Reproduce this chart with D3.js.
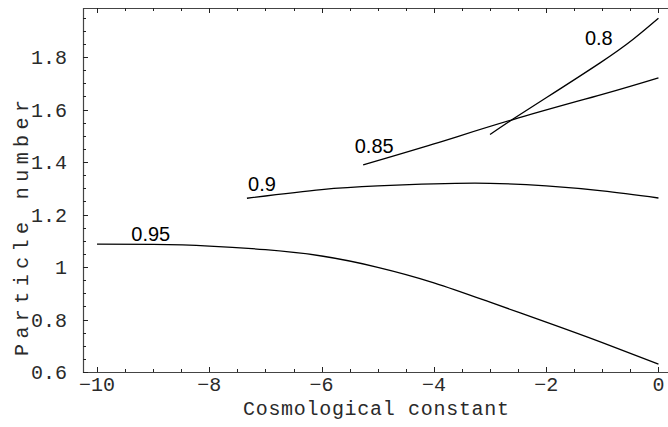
<!DOCTYPE html>
<html>
<head>
<meta charset="utf-8">
<script src="https://cdn.jsdelivr.net/npm/d3@7/dist/d3.min.js"></script>
<style>
  html, body { margin: 0; padding: 0; background: #fff; }
  svg { display: block; }
</style>
</head>
<body>
<svg id="chart" width="668" height="427"></svg>
<script>
// ---- data ----
const xTicks = [-10, -8, -6, -4, -2, 0];
const yTicks = [0.6, 0.8, 1.0, 1.2, 1.4, 1.6, 1.8];
const yTickLabels = ["0.6", "0.8", "1", "1.2", "1.4", "1.6", "1.8"];

const x95 = [-10, -9, -8, -7, -6, -5, -4, -3, -2, -1, 0];
const y95 = [1.087, 1.086, 1.080, 1.066, 1.042, 0.999, 0.940, 0.866, 0.790, 0.712, 0.630];

const x90 = [-7.33, -6, -5, -4, -3, -2, -1, 0];
const y90 = [1.262, 1.295, 1.309, 1.317, 1.319, 1.309, 1.290, 1.263];

const x85 = [-5.26, -4, -2.59, -1, 0];
const y85 = [1.389, 1.469, 1.562, 1.658, 1.721];

const x80 = [-3.0, -2.59, -2.0, -1.04, -0.45, 0];
const y80 = [1.505, 1.564, 1.645, 1.778, 1.868, 1.948];

const curveNames = ["0.95", "0.9", "0.85", "0.8"];
const labelX = [-9.39, -7.31, -5.41, -1.31];
const labelY = [1.099, 1.290, 1.433, 1.846];

const xTitle = "Cosmological constant";
const yTitle = "Particle number";

// ---- layout ----
const svg = d3.select("#chart");
const L = 83, R = 668, T = 8, B = 372;
const x = d3.scaleLinear().domain([-10.25, 0.17]).range([L, R]);
const y = d3.scaleLinear().domain([0.6, 1.987]).range([B, T]);

const axisColor = "#444";
const monoFont = "'Liberation Mono', 'Courier New', monospace";
const textColor = "#2a2a2a";

// frame lines
svg.append("line").attr("x1", L).attr("x2", R).attr("y1", B + 0.5).attr("y2", B + 0.5)
  .attr("stroke", axisColor).attr("stroke-width", 1.2);
svg.append("line").attr("x1", L).attr("x2", R).attr("y1", T + 0.5).attr("y2", T + 0.5)
  .attr("stroke", axisColor).attr("stroke-width", 1.2);
svg.append("line").attr("x1", L + 0.5).attr("x2", L + 0.5).attr("y1", T).attr("y2", B + 1)
  .attr("stroke", axisColor).attr("stroke-width", 1.2);

// x ticks (bottom & top), major + minor
const xMinor = d3.range(-10, 0.001, 0.5).filter(v => Math.abs(v % 2) > 1e-6);
const gx = svg.append("g");
xTicks.forEach(v => {
  const px = Math.round(x(v)) + 0.5;
  gx.append("line").attr("x1", px).attr("x2", px).attr("y1", B).attr("y2", B - 5).attr("stroke", "#222");
  gx.append("line").attr("x1", px).attr("x2", px).attr("y1", T).attr("y2", T + 5).attr("stroke", "#222");
});
xMinor.forEach(v => {
  const px = Math.round(x(v)) + 0.5;
  gx.append("line").attr("x1", px).attr("x2", px).attr("y1", B).attr("y2", B - 3).attr("stroke", "#222");
  gx.append("line").attr("x1", px).attr("x2", px).attr("y1", T).attr("y2", T + 3).attr("stroke", "#222");
});
gx.selectAll("text.xt").data(xTicks).join("text")
  .attr("x", d => x(d)).attr("y", 391)
  .attr("text-anchor", "middle")
  .attr("font-family", monoFont).attr("font-size", 20).attr("fill", textColor)
  .text(d => d === 0 ? "0" : "\u2212" + Math.abs(d));

// y ticks
const yMinor = d3.range(0.6, 1.99, 0.05).filter(v => Math.abs((v * 100) % 20) > 1 && Math.abs((v * 100) % 20 - 20) > 1);
const gy = svg.append("g");
yTicks.forEach(v => {
  const py = Math.round(y(v)) + 0.5;
  gy.append("line").attr("x1", L).attr("x2", L + 5).attr("y1", py).attr("y2", py).attr("stroke", "#222");
});
yMinor.forEach(v => {
  const py = Math.round(y(v)) + 0.5;
  gy.append("line").attr("x1", L).attr("x2", L + 3).attr("y1", py).attr("y2", py).attr("stroke", "#222");
});
gy.selectAll("text.yt").data(yTicks).join("text")
  .attr("x", 67).attr("y", d => y(d) + 7)
  .attr("text-anchor", "end")
  .attr("font-family", monoFont).attr("font-size", 20).attr("fill", textColor)
  .text((d, i) => yTickLabels[i]);

// titles
svg.append("text").attr("x", 376).attr("y", 415)
  .attr("text-anchor", "middle")
  .attr("textLength", 266).attr("lengthAdjust", "spacing")
  .attr("font-family", monoFont).attr("font-size", 20).attr("fill", textColor)
  .text(xTitle);
svg.append("text")
  .attr("transform", "translate(28,228) rotate(-90)")
  .attr("text-anchor", "middle")
  .attr("textLength", 256).attr("lengthAdjust", "spacing")
  .attr("font-family", monoFont).attr("font-size", 20).attr("fill", textColor)
  .text(yTitle);

// curves
const series = [[x95, y95], [x90, y90], [x85, y85], [x80, y80]];
const line = d3.line().x(d => x(d[0])).y(d => y(d[1])).curve(d3.curveNatural);
series.forEach(([xs, ys]) => {
  svg.append("path")
    .datum(xs.map((v, i) => [v, ys[i]]))
    .attr("d", line)
    .attr("fill", "none").attr("stroke", "#000").attr("stroke-width", 1.3);
});

// curve labels
svg.selectAll("text.cl").data(curveNames).join("text")
  .attr("x", (d, i) => x(labelX[i])).attr("y", (d, i) => y(labelY[i]))
  .attr("font-family", "'Liberation Sans', Arial, sans-serif").attr("font-size", 20).attr("fill", "#000")
  .text(d => d);
</script>
</body>
</html>
